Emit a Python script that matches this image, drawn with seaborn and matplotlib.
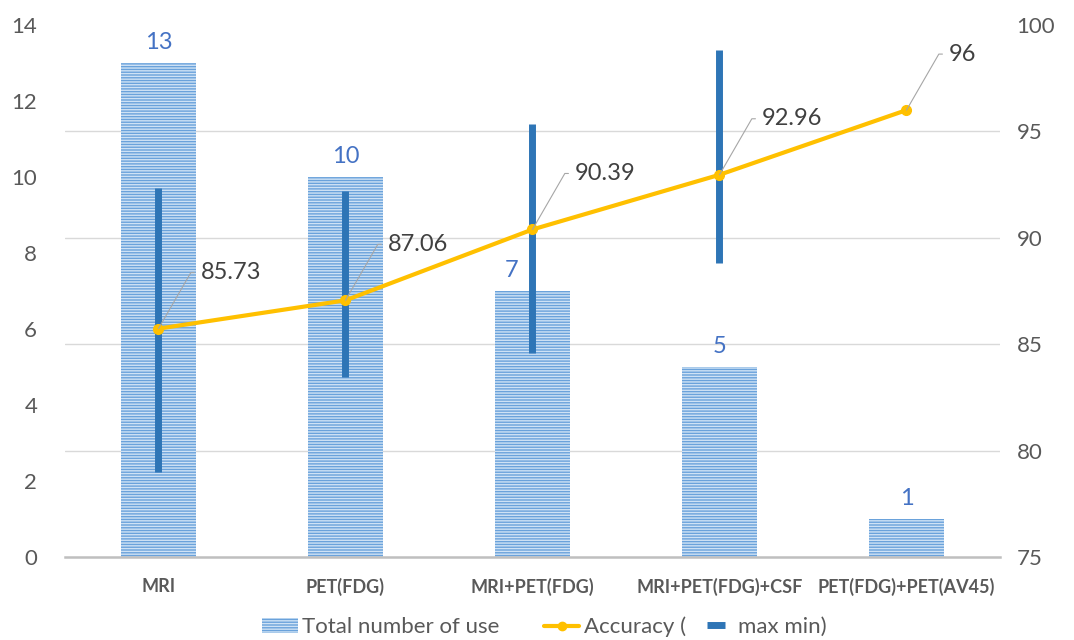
import numpy as np
import matplotlib
matplotlib.use("Agg")
import matplotlib.pyplot as plt
import seaborn as sns
from matplotlib.patches import Patch
from matplotlib.lines import Line2D

# ---- data ----
categories = ["MRI", "PET(FDG)", "MRI+PET(FDG)", "MRI+PET(FDG)+CSF", "PET(FDG)+PET(AV45)"]
total_use = [13, 10, 7, 5, 1]
accuracy = [85.73, 87.06, 90.39, 92.96, 96]
acc_max = [92.35, 92.2, 95.35, 98.8, np.nan]
acc_min = [79.0, 83.45, 84.6, 88.8, np.nan]
left_ticks = [0, 2, 4, 6, 8, 10, 12, 14]
right_ticks = [75, 80, 85, 90, 95, 100]

sns.set_theme(style="white")
plt.rcParams['font.family'] = ['Lato', 'DejaVu Sans']
plt.rcParams['hatch.linewidth'] = 1.0

bar_face = "#6AA2DB"
hatch_col = "#CFE2F5"
err_col = "#2E75B6"
line_col = "#FFC000"
txt_col = "#595959"

fig = plt.figure(figsize=(10.74, 6.4), dpi=100)
ax = fig.add_axes([0.0605, 0.1297, 0.8706, 0.8313])

sns.barplot(x=categories, y=total_use, ax=ax, color=bar_face, saturation=1,
            width=0.40, edgecolor=hatch_col, linewidth=0, hatch="------", zorder=2)
ax.set_ylim(0, 14)
ax.set_yticks(left_ticks)
labels = ax.bar_label(ax.containers[0], padding=7, color="#4472C4", fontsize=17)
# the "7" label sits left of its bar centre to clear the min-max line
labels[2].set_horizontalalignment("right")
labels[2].xyann = (-10, labels[2].xyann[1])

ax2 = ax.twinx()
ax2.set_ylim(75, 100)
ax2.set_yticks(right_ticks)

# gridlines at the right axis values, drawn behind the bars (on ax)
grid_vals = [(v - 75) / 25 * 14 for v in right_ticks[1:-1]]
ax.set_yticks(grid_vals, minor=True)
ax.grid(True, which="minor", axis="y", color="#D9D9D9", lw=1.0, zorder=0)
ax.grid(False, which="major")
ax.tick_params(which="minor", length=0)

xpos = np.arange(len(categories))
ax2.vlines(xpos, acc_min, acc_max, color=err_col, lw=5, zorder=3)
ax2.plot(xpos, accuracy, color=line_col, lw=3, marker="o", markersize=7, zorder=4)

for i, v in enumerate(accuracy):
    ax2.annotate(f"{v:g}", xy=(i, v), xytext=(42, 56), textcoords="offset pixels",
                 ha="left", va="center", fontsize=17, color="#404040",
                 arrowprops=dict(arrowstyle="-", color="#A6A6A6", lw=0.8,
                                 shrinkA=2, shrinkB=0,
                                 connectionstyle="angle,angleA=0,angleB=60,rad=0"),
                 zorder=5)

ax.set_xlim(-0.5, len(categories) - 0.5)
ax2.set_xlim(-0.5, len(categories) - 0.5)

for a in (ax, ax2):
    for s in ("top", "left", "right", "bottom"):
        a.spines[s].set_visible(False)
ax.spines["bottom"].set_visible(True)
ax.spines["bottom"].set_color("#BFBFBF")
ax.spines["bottom"].set_linewidth(1.8)

ax.tick_params(axis="y", which="major", length=0, pad=20, labelsize=16, labelcolor=txt_col)
ax2.tick_params(axis="y", length=0, pad=12, labelsize=16, labelcolor=txt_col)
ax.tick_params(axis="x", length=0, pad=15, labelsize=13, labelcolor=txt_col)
for lab in ax.get_xticklabels():
    lab.set_fontweight("bold")
ax.set_xlabel("")
ax.set_ylabel("")

handles_a = [
    Patch(facecolor=bar_face, edgecolor=hatch_col, hatch="------", lw=0, label="Total number of use"),
    Line2D([0], [0], color=line_col, lw=3, marker="o", markersize=6, label="Accuracy ("),
]
handles_b = [
    Line2D([0], [0], color=err_col, lw=0, marker="_", markersize=13, markeredgewidth=5, label="max min)"),
]
leg_a = fig.legend(handles=handles_a, loc="center left", bbox_to_anchor=(0.244, 0.02), ncol=2,
                   frameon=False, fontsize=16, labelcolor=txt_col, handlelength=1.6,
                   handleheight=0.7, handletextpad=0.2, columnspacing=2.0,
                   borderpad=0, borderaxespad=0)
leg_b = fig.legend(handles=handles_b, loc="center left", bbox_to_anchor=(0.6565, 0.02), ncol=1,
                   frameon=False, fontsize=16, labelcolor=txt_col, handlelength=1.0,
                   handletextpad=0.5, borderpad=0, borderaxespad=0)

fig.savefig("out.png", dpi=100)
